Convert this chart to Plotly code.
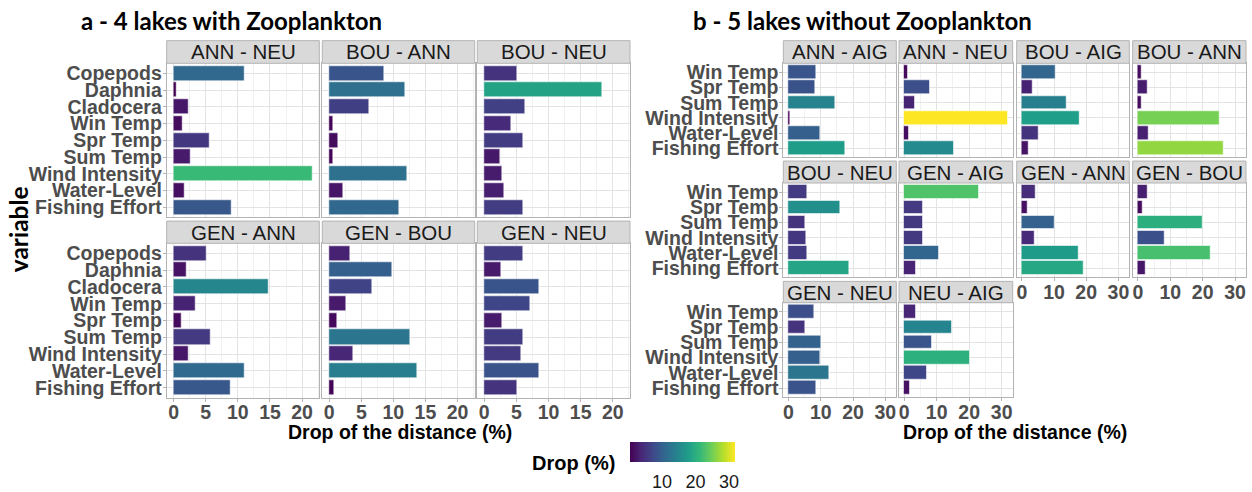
import plotly.graph_objects as go

W, H = 1252, 492

# ---------------- data ----------------
cats_a = ["Copepods", "Daphnia", "Cladocera", "Win Temp", "Spr Temp",
          "Sum Temp", "Wind Intensity", "Water-Level", "Fishing Effort"]
pairs_a = ["ANN - NEU", "BOU - ANN", "BOU - NEU", "GEN - ANN", "GEN - BOU", "GEN - NEU"]
ann_neu_a = [11.0, 0.4, 2.4, 1.4, 5.6, 2.6, 21.6, 1.7, 9.0]
bou_ann_a = [8.6, 11.9, 6.3, 0.7, 1.4, 0.7, 12.1, 2.2, 10.9]
bou_neu_a = [5.1, 18.4, 6.4, 4.2, 6.1, 2.5, 2.8, 3.1, 6.1]
gen_ann_a = [5.1, 2.0, 14.8, 3.4, 1.3, 5.8, 2.3, 11.1, 8.9]
gen_bou_a = [3.3, 9.8, 6.7, 2.6, 1.2, 12.7, 3.8, 13.7, 0.8]
gen_neu_a = [6.1, 2.6, 8.6, 7.1, 2.8, 6.1, 5.8, 8.5, 5.1]
values_a = [ann_neu_a, bou_ann_a, bou_neu_a, gen_ann_a, gen_bou_a, gen_neu_a]

cats_b = ["Win Temp", "Spr Temp", "Sum Temp", "Wind Intensity", "Water-Level", "Fishing Effort"]
pairs_b = ["ANN - AIG", "ANN - NEU", "BOU - AIG", "BOU - ANN", "BOU - NEU",
           "GEN - AIG", "GEN - ANN", "GEN - BOU", "GEN - NEU", "NEU - AIG"]
ann_aig_b = [8.7, 8.4, 14.5, 0.5, 9.8, 17.7]
ann_neu_b = [1.2, 8.0, 3.4, 31.8, 1.5, 15.3]
bou_aig_b = [10.6, 3.4, 13.9, 17.9, 5.2, 2.0]
bou_ann_b = [1.3, 2.9, 1.3, 25.2, 3.2, 26.6]
bou_neu_b = [5.9, 16.0, 5.1, 5.5, 5.9, 18.8]
gen_aig_b = [23.0, 5.8, 5.7, 5.7, 10.6, 3.6]
gen_ann_b = [4.4, 1.8, 10.1, 4.1, 17.6, 19.1]
gen_bou_b = [3.1, 1.4, 20.1, 8.2, 22.5, 2.3]
gen_neu_b = [8.0, 5.1, 10.2, 9.8, 12.7, 8.5]
neu_aig_b = [3.6, 14.6, 8.7, 20.2, 7.1, 1.8]
values_b = [ann_aig_b, ann_neu_b, bou_aig_b, bou_ann_b, bou_neu_b,
            gen_aig_b, gen_ann_b, gen_bou_b, gen_neu_b, neu_aig_b]

colorbar_ticks = [10, 20, 30]

# ---------------- layout geometry (pixels) ----------------
cols_a = [(166.7, 319.3), (322.3, 474.7), (477.3, 630.0)]
rows_a = [((39.3, 62.3), (62.3, 219.0)), ((222.7, 245.3), (245.3, 402.3))]
cols_b = [(783.3, 896.3), (899.0, 1012.7), (1016.7, 1129.3), (1132.7, 1246.0)]
rows_b = [((39.3, 62.3), (62.3, 158.0)), ((161.7, 184.0), (184.0, 280.0)),
          ((284.0, 305.7), (305.7, 401.7))]


def fx(x):
    return x / W


def fy(y):
    return 1 - y / H


all_vals = [v for s in values_a + values_b for v in s]
cmin, cmax = min(all_vals), max(all_vals)
max_a = max(v for s in values_a for v in s)
max_b = max(v for s in values_b for v in s)

panels = []
for i, (name, vals) in enumerate(zip(pairs_a, values_a)):
    r, c = divmod(i, 3)
    panels.append(dict(name=name, vals=vals, cats=cats_a, xd=cols_a[c], strip=rows_a[r][0],
                       yd=rows_a[r][1], showy=(c == 0), showx=(r == 1),
                       xr=[-0.05 * max_a, 1.05 * max_a], dt=5, mdt=2.5))
for i, (name, vals) in enumerate(zip(pairs_b, values_b)):
    r, c = divmod(i, 4)
    showx = (r == 2) or (r == 1 and c >= 2)
    panels.append(dict(name=name, vals=vals, cats=cats_b, xd=cols_b[c], strip=rows_b[r][0],
                       yd=rows_b[r][1], showy=(c == 0), showx=showx,
                       xr=[-0.05 * max_b, 1.05 * max_b], dt=10, mdt=5))

fig = go.Figure()
FONT = "Liberation Sans, Arial, sans-serif"
TITLE_FONT = "Lato, Open Sans, sans-serif"
tick_font = dict(family=FONT, size=19.5, color="#4D4D4D", weight="bold")
shapes, annotations = [], []
layout = {}

for k, p in enumerate(panels, start=1):
    xa, ya = f"x{k}", f"y{k}"
    fig.add_trace(go.Bar(
        x=p["vals"], y=p["cats"], orientation="h", width=0.9,
        marker=dict(color=p["vals"], coloraxis="coloraxis",
                    line=dict(color="rgba(255,255,255,0.55)", width=1)),
        xaxis=xa, yaxis=ya, showlegend=False,
        hovertemplate="%{y}: %{x}<extra>" + p["name"] + "</extra>"))
    n = len(p["cats"])
    layout[f"xaxis{k}"] = dict(
        domain=[fx(p["xd"][0]), fx(p["xd"][1])], anchor=ya, range=p["xr"],
        dtick=p["dt"], tick0=0, showgrid=True, gridcolor="#E3E3E3", gridwidth=1,
        minor=dict(dtick=p["mdt"], tick0=0, showgrid=True, gridcolor="#F1F1F1", gridwidth=1),
        showline=True, mirror=True, linecolor="#B3B3B3", linewidth=1,
        zeroline=False, showticklabels=p["showx"],
        ticks="outside" if p["showx"] else "", ticklen=3, tickcolor="#B3B3B3",
        ticklabelstandoff=-6,
        tickfont=tick_font, fixedrange=True)
    layout[f"yaxis{k}"] = dict(
        domain=[fy(p["yd"][1]), fy(p["yd"][0])], anchor=xa, type="category",
        categoryorder="array", categoryarray=list(reversed(p["cats"])),
        range=[-0.6, n - 0.4], tickmode="array", tickvals=p["cats"],
        showgrid=True, gridcolor="#E3E3E3", gridwidth=1,
        showline=True, mirror=True, linecolor="#B3B3B3", linewidth=1,
        zeroline=False, showticklabels=p["showy"],
        ticks="outside" if p["showy"] else "", ticklen=3, tickcolor="#B3B3B3",
        ticklabelstandoff=-3,
        tickfont=tick_font, fixedrange=True)
    # strip
    shapes.append(dict(type="rect", xref="paper", yref="paper",
                       x0=fx(p["xd"][0]), x1=fx(p["xd"][1]),
                       y0=fy(p["strip"][1]), y1=fy(p["strip"][0]),
                       fillcolor="#D9D9D9", line=dict(color="#B3B3B3", width=1), layer="above"))
    annotations.append(dict(text=p["name"], xref="paper", yref="paper",
                            x=fx((p["xd"][0] + p["xd"][1]) / 2),
                            y=fy((p["strip"][0] + p["strip"][1]) / 2),
                            xanchor="center", yanchor="middle", showarrow=False,
                            font=dict(family=FONT, size=20.5, color="#1A1A1A")))

annotations += [
    dict(text="a - 4 lakes with Zooplankton", xref="paper", yref="paper",
         x=fx(79), y=fy(19), xanchor="left", yanchor="middle", showarrow=False,
         font=dict(family=TITLE_FONT, size=24, color="#000000", weight="bold")),
    dict(text="b - 5 lakes without Zooplankton", xref="paper", yref="paper",
         x=fx(691), y=fy(19), xanchor="left", yanchor="middle", showarrow=False,
         font=dict(family=TITLE_FONT, size=24, color="#000000", weight="bold")),
    dict(text="variable", xref="paper", yref="paper", textangle=-90,
         x=fx(18), y=fy(231), xanchor="center", yanchor="middle", showarrow=False,
         font=dict(family=TITLE_FONT, size=24.5, color="#000000", weight="bold")),
    dict(text="Drop of the distance (%)", xref="paper", yref="paper",
         x=fx(400), y=fy(437), xanchor="center", yanchor="middle", showarrow=False,
         font=dict(family=FONT, size=19.5, color="#000000", weight="bold")),
    dict(text="Drop of the distance (%)", xref="paper", yref="paper",
         x=fx(1015), y=fy(437), xanchor="center", yanchor="middle", showarrow=False,
         font=dict(family=FONT, size=19.5, color="#000000", weight="bold")),
    dict(text="Drop (%)", xref="paper", yref="paper",
         x=fx(573), y=fy(469), xanchor="center", yanchor="middle", showarrow=False,
         font=dict(family=FONT, size=20, color="#000000", weight="bold")),
]

fig.update_layout(
    width=W, height=H, margin=dict(l=0, r=0, t=0, b=0),
    paper_bgcolor="white", plot_bgcolor="white",
    font=dict(family=FONT),
    shapes=shapes, annotations=annotations, bargap=0,
    coloraxis=dict(
        colorscale="Viridis", cmin=cmin, cmax=cmax,
        colorbar=dict(orientation="h", x=fx(682.5), xanchor="center",
                      y=fy(447), yanchor="top", len=125, lenmode="pixels",
                      thickness=20, thicknessmode="pixels", outlinewidth=0,
                      xpad=10, ypad=0,
                      tickvals=colorbar_ticks, ticks="outside", ticklen=5,
                      tickcolor="rgba(255,255,255,0)",
                      tickfont=dict(family=FONT, size=18, color="#1A1A1A"),
                      title=dict(text=""))),
    **layout)

fig.write_html("out.html", config={"displayModeBar": False},
               post_script="document.body.style.margin='0';document.body.style.padding='0';")
